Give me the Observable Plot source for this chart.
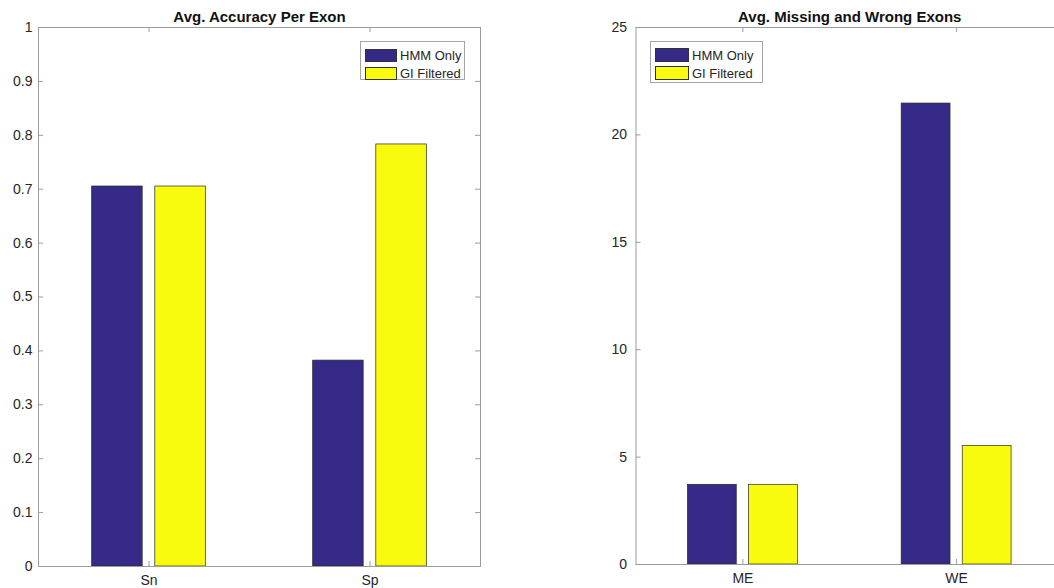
<!DOCTYPE html>
<html>
<head>
<meta charset="utf-8">
<script src="https://cdn.jsdelivr.net/npm/d3@7"></script>
<script src="https://cdn.jsdelivr.net/npm/@observablehq/plot@0.6"></script>
<style>
  html, body { margin: 0; background: #fff; overflow: hidden; }
  #fig { position: relative; width: 1054px; height: 588px; overflow: hidden;
         font-family: "Liberation Sans", Arial, sans-serif; }
  .panel { position: absolute; top: 0; }
  .legend { position: absolute; box-sizing: border-box; background: #fff;
            border: 1px solid #a6a6a6; padding: 4px 0 0 4px; }
  .legend .row { display: flex; align-items: center; height: 18px; }
  .legend .sw { box-sizing: border-box; border: 1px solid #333; margin-right: 3px; }
  .legend .lbl { font-size: 13px; color: #262626; white-space: nowrap; }
</style>
</head>
<body>
<div id="fig"></div>
<script>
// Series shared by both panels
const series = ["HMM Only", "GI Filtered"];
const seriesColors = ["#352A87", "#F9FB0E"];

// Left panel: average accuracy per exon
const accTitle = "Avg. Accuracy Per Exon";
const accCategories = ["Sn", "Sp"];
const accHmm = [0.705, 0.382];
const accGi = [0.705, 0.783];
const accTicks = [0, 0.1, 0.2, 0.3, 0.4, 0.5, 0.6, 0.7, 0.8, 0.9, 1];
const accTickLabels = ["0", "0.1", "0.2", "0.3", "0.4", "0.5", "0.6", "0.7", "0.8", "0.9", "1"];

// Right panel: average missing and wrong exons
const exonTitle = "Avg. Missing and Wrong Exons";
const exonCategories = ["ME", "WE"];
const exonHmm = [3.71, 21.46];
const exonGi = [3.71, 5.52];
const exonTicks = [0, 5, 10, 15, 20, 25];
const exonTickLabels = ["0", "5", "10", "15", "20", "25"];

// Grouped bar geometry (in category units), as MATLAB's bar() lays it out
const nSeries = series.length;
const groupWidth = Math.min(0.8, nSeries / (nSeries + 1.5));
const barWidth = 0.8 * groupWidth / nSeries;
const seriesOffset = s => -groupWidth / 2 + groupWidth / nSeries * (s + 0.5);

const axisGray = "#9c9c9c";
const textGray = "#262626";

function makePanel({title, categories, values, ticks, tickLabels, yMax,
                    width, height, marginLeft, marginRight, marginTop, marginBottom,
                    yPad, xPad}) {
  const rows = [];
  values.forEach((vals, s) => vals.forEach((v, i) =>
    rows.push({series: series[s], s, i: i + 1, value: v})));
  const plotW = width - marginLeft - marginRight;
  const plotH = height - marginTop - marginBottom;
  const catIdx = categories.map((_, i) => i + 1);
  const tickLen = 5;
  return Plot.plot({
    width, height, marginLeft, marginRight, marginTop, marginBottom,
    style: {fontFamily: "'Liberation Sans', Arial, sans-serif", fontSize: "14px", color: textGray, background: "transparent"},
    x: {domain: [0.5, categories.length + 0.5]},
    y: {domain: [0, yMax]},
    color: {domain: series, range: seriesColors},
    marks: [
      Plot.rectY(rows, {
        x1: d => d.i + seriesOffset(d.s) - barWidth / 2,
        x2: d => d.i + seriesOffset(d.s) + barWidth / 2,
        y1: 0, y2: "value",
        fill: "series", stroke: "#2a2a2a", strokeWidth: 0.7
      }),
      Plot.frame({stroke: axisGray}),
      // inward tick marks on all four sides
      Plot.tickY(ticks, {y: d => d, insetRight: plotW - tickLen, stroke: axisGray}),
      Plot.tickY(ticks, {y: d => d, insetLeft: plotW - tickLen, stroke: axisGray}),
      Plot.tickX(catIdx, {x: d => d, insetTop: plotH - tickLen, stroke: axisGray}),
      Plot.tickX(catIdx, {x: d => d, insetBottom: plotH - tickLen, stroke: axisGray}),
      Plot.axisY(ticks, {tickSize: 0, tickPadding: yPad, label: null,
        tickFormat: v => tickLabels[ticks.indexOf(v)], fill: textGray}),
      Plot.axisX(catIdx, {tickSize: 0, tickPadding: xPad, label: null,
        tickFormat: v => categories[v - 1], fill: textGray}),
      Plot.text([title], {frameAnchor: "top", dy: -10, lineAnchor: "middle",
        fontWeight: "bold", fontSize: 15, fill: "#111"})
    ]
  });
}

function makeLegend({left, top, w, h, swW, swH}) {
  const box = document.createElement("div");
  box.className = "legend";
  Object.assign(box.style, {left: left + "px", top: top + "px", width: w + "px", height: h + "px"});
  series.forEach((name, s) => {
    const row = document.createElement("div");
    row.className = "row";
    const sw = document.createElement("div");
    sw.className = "sw";
    Object.assign(sw.style, {width: swW + "px", height: swH + "px", background: seriesColors[s]});
    const lbl = document.createElement("span");
    lbl.className = "lbl";
    lbl.textContent = name;
    row.append(sw, lbl);
    box.append(row);
  });
  return box;
}

const fig = document.getElementById("fig");

const left = makePanel({
  title: accTitle, categories: accCategories, values: [accHmm, accGi],
  ticks: accTicks, tickLabels: accTickLabels, yMax: 1,
  width: 530, height: 588, marginLeft: 38, marginRight: 50, marginTop: 27, marginBottom: 22,
  yPad: 6, xPad: 9
});
left.classList.add("panel");
left.style.left = "0px";
fig.append(left);

const right = makePanel({
  title: exonTitle, categories: exonCategories, values: [exonHmm, exonGi],
  ticks: exonTicks, tickLabels: exonTickLabels, yMax: 25,
  width: 530, height: 588, marginLeft: 75.5, marginRight: 27, marginTop: 27, marginBottom: 24,
  yPad: 9, xPad: 9
});
right.classList.add("panel");
right.style.left = "560px";
fig.append(right);

fig.append(makeLegend({left: 360, top: 41, w: 105, h: 39, swW: 32, swH: 13}));
fig.append(makeLegend({left: 650, top: 41, w: 113, h: 42, swW: 34, swH: 14}));
</script>
</body>
</html>
